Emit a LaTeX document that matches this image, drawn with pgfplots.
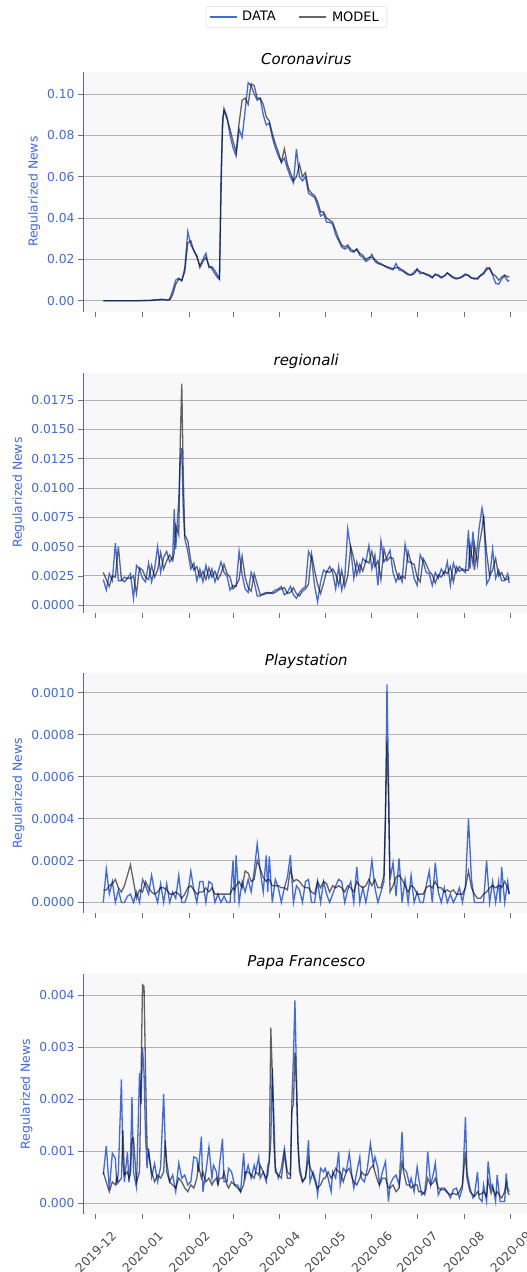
\documentclass[border=0pt]{standalone}
\usepackage{fontspec}
\setmainfont{DejaVu Sans}
\usepackage{pgfplots}
\usepackage{pgfplotstable}
\pgfplotsset{compat=1.18}

\definecolor{rb}{RGB}{65,105,225}
\definecolor{bgc}{RGB}{248,248,248}
\definecolor{grd}{RGB}{178,178,178}

% day (0 = 2019-12-01), data, model
\pgfplotstableread{
d D M
5 0 0
9 0 0
13 0 0
17 0 0
21 0 0
25 0 0
29 0.0001 0
33 0.0002 0.0001
35 0.0001 0.0002
37 0.0003 0.0001
39 0.0005 0.0003
41 0.0004 0.0005
43 0.0008 0.0004
45 0.0005 0.0007
47 0.0003 0.0004
49 0.0008 0.0004
51 0.0050 0.0030
53 0.0100 0.0080
55 0.0110 0.0105
57 0.0095 0.0100
59 0.0160 0.0140
61 0.0335 0.0280
63 0.0270 0.0290
65 0.0245 0.0240
67 0.0210 0.0220
69 0.0170 0.0160
71 0.0200 0.0190
73 0.0230 0.0210
75 0.0160 0.0170
77 0.0165 0.0155
79 0.0145 0.0130
81 0.0120 0.0110
82 0.0105 0.0105
83 0.0600 0.0500
84 0.0830 0.0880
85 0.0930 0.0920
87 0.0890 0.0880
89 0.0800 0.0830
91 0.0740 0.0770
93 0.0700 0.0720
95 0.0830 0.0860
97 0.0790 0.0970
99 0.0920 0.0980
101 0.1055 0.0950
103 0.1040 0.1050
105 0.1000 0.1040
107 0.0970 0.0980
109 0.0980 0.0980
111 0.0900 0.0950
113 0.0850 0.0890
115 0.0860 0.0870
117 0.0790 0.0810
119 0.0740 0.0760
121 0.0700 0.0720
123 0.0670 0.0670
125 0.0690 0.0735
127 0.0640 0.0660
129 0.0600 0.0620
131 0.0570 0.0580
133 0.0735 0.0600
135 0.0600 0.0660
137 0.0580 0.0600
139 0.0600 0.0620
141 0.0520 0.0540
143 0.0510 0.0520
145 0.0500 0.0510
147 0.0460 0.0480
149 0.0410 0.0430
151 0.0420 0.0430
153 0.0380 0.0400
155 0.0380 0.0390
157 0.0370 0.0380
159 0.0320 0.0340
161 0.0290 0.0300
163 0.0260 0.0270
165 0.0250 0.0260
167 0.0260 0.0270
169 0.0240 0.0250
171 0.0235 0.0240
173 0.0250 0.0250
175 0.0220 0.0230
177 0.0210 0.0220
179 0.0190 0.0200
181 0.0200 0.0210
183 0.0225 0.0210
185 0.0190 0.0200
187 0.0180 0.0185
189 0.0175 0.0180
191 0.0170 0.0170
193 0.0160 0.0165
195 0.0155 0.0160
197 0.0150 0.0155
199 0.0180 0.0160
201 0.0150 0.0160
203 0.0145 0.0150
205 0.0135 0.0140
207 0.0125 0.0130
209 0.0125 0.0125
211 0.0140 0.0130
213 0.0155 0.0150
215 0.0130 0.0140
217 0.0135 0.0135
219 0.0125 0.0130
221 0.0120 0.0125
223 0.0110 0.0115
225 0.0130 0.0125
227 0.0120 0.0125
229 0.0110 0.0115
231 0.0120 0.0120
233 0.0135 0.0135
235 0.0120 0.0125
237 0.0110 0.0115
239 0.0105 0.0110
241 0.0110 0.0110
243 0.0120 0.0115
245 0.0130 0.0125
247 0.0120 0.0125
249 0.0110 0.0110
251 0.0105 0.0110
253 0.0110 0.0105
255 0.0125 0.0120
257 0.0135 0.0130
259 0.0160 0.0150
261 0.0155 0.0160
263 0.0125 0.0130
265 0.0085 0.0120
267 0.0080 0.0100
269 0.0105 0.0115
271 0.0120 0.0125
273 0.0095 0.0115
274 0.0100 0.0120
}\corona

\pgfplotstableread{
d D M
5 0.0022 0.0028
7 0.0013 0.0022
9 0.0027 0.0016
11 0.0021 0.0025
13 0.0053 0.0024
15 0.0021 0.0050
17 0.0021 0.0022
19 0.0024 0.0020
21 0.0023 0.0023
23 0.0027 0.0023
25 0.0006 0.0025
27 0.0034 0.0010
29 0.0031 0.0032
31 0.0023 0.0030
33 0.0020 0.0024
35 0.0036 0.0022
37 0.0020 0.0034
39 0.0031 0.0024
41 0.0050 0.0030
43 0.0028 0.0045
45 0.0041 0.0031
47 0.0046 0.0038
49 0.0037 0.0043
51 0.0041 0.0038
52 0.0082 0.0045
53 0.0048 0.0068
55 0.0090 0.0060
56 0.0125 0.0140
57 0.0134 0.0189
58 0.0080 0.0110
59 0.0057 0.0060
61 0.0046 0.0055
63 0.0031 0.0038
65 0.0036 0.0030
67 0.0021 0.0033
69 0.0031 0.0024
71 0.0020 0.0029
73 0.0034 0.0022
75 0.0023 0.0032
77 0.0031 0.0024
79 0.0020 0.0029
81 0.0028 0.0022
83 0.0037 0.0027
85 0.0028 0.0035
87 0.0025 0.0027
89 0.0013 0.0024
91 0.0017 0.0014
93 0.0016 0.0017
95 0.0046 0.0022
97 0.0026 0.0042
99 0.0014 0.0024
101 0.0011 0.0015
103 0.0028 0.0012
105 0.0020 0.0027
107 0.0008 0.0018
109 0.0008 0.0009
111 0.0010 0.0009
113 0.0011 0.0010
115 0.0010 0.0011
117 0.0011 0.0010
119 0.0013 0.0011
121 0.0014 0.0013
123 0.0016 0.0014
125 0.0009 0.0015
127 0.0011 0.0010
129 0.0016 0.0011
131 0.0009 0.0015
133 0.0006 0.0010
135 0.0011 0.0008
137 0.0014 0.0012
139 0.0016 0.0014
141 0.0046 0.0018
143 0.0040 0.0044
145 0.0017 0.0030
147 0.0003 0.0018
149 0.0020 0.0010
151 0.0030 0.0019
153 0.0028 0.0029
155 0.0033 0.0028
157 0.0028 0.0031
159 0.0014 0.0027
161 0.0033 0.0017
163 0.0013 0.0030
165 0.0023 0.0016
167 0.0065 0.0025
169 0.0048 0.0050
171 0.0023 0.0040
173 0.0037 0.0026
175 0.0028 0.0035
177 0.0040 0.0029
179 0.0037 0.0038
181 0.0051 0.0036
183 0.0031 0.0046
185 0.0043 0.0033
187 0.0017 0.0038
189 0.0055 0.0022
191 0.0037 0.0048
193 0.0041 0.0038
195 0.0047 0.0041
197 0.0028 0.0040
199 0.0020 0.0029
201 0.0027 0.0022
203 0.0020 0.0025
205 0.0052 0.0023
207 0.0037 0.0046
209 0.0037 0.0036
211 0.0023 0.0035
213 0.0017 0.0024
215 0.0043 0.0020
217 0.0037 0.0040
219 0.0028 0.0035
221 0.0027 0.0029
223 0.0017 0.0026
225 0.0028 0.0019
227 0.0023 0.0026
229 0.0031 0.0024
231 0.0026 0.0029
233 0.0037 0.0027
235 0.0017 0.0033
237 0.0036 0.0020
239 0.0028 0.0033
241 0.0033 0.0029
243 0.0030 0.0031
245 0.0028 0.0030
247 0.0064 0.0030
248 0.0031 0.0052
250 0.0063 0.0035
251 0.0030 0.0052
253 0.0051 0.0035
254 0.0065 0.0050
256 0.0083 0.0065
257 0.0075 0.0077
258 0.0051 0.0060
259 0.0018 0.0045
261 0.0023 0.0025
263 0.0048 0.0030
265 0.0023 0.0040
267 0.0030 0.0025
269 0.0021 0.0028
271 0.0021 0.0022
273 0.0027 0.0022
274 0.0019 0.0024
}\regionali

\pgfplotstableread{
d D M
5 0 0.00006
7 0.00016 0.00006
9 0.00004 0.00008
11 0.00010 0.00009
13 0 0.00011
15 0.00006 0.00007
17 0 0.00005
19 0 0.00008
21 0.00003 0.00013
23 0.00004 0.00018
25 0 0.00010
27 0.00005 0.00002
29 0 0.00006
31 0.00011 0.00005
33 0.00008 0.00010
35 0.00004 0.00007
37 0.00013 0.00005
39 0.00005 0.00004
41 0 0.00005
43 0.00009 0.00007
45 0 0.00007
47 0.00009 0.00006
49 0 0.00004
51 0.00005 0.00004
53 0.00002 0.00005
55 0.00013 0.00004
57 0 0.00002
59 0 0.00004
61 0.00004 0.00007
63 0.00015 0.00008
65 0.00006 0.00006
67 0 0.00004
69 0.00010 0.00005
71 0.00010 0.00005
73 0 0.00007
75 0.00010 0.00005
77 0.00009 0.00007
79 0 0.00004
81 0.00004 0.00004
83 0 0.00004
85 0.00003 0.00004
87 0 0.00004
89 0 0.00004
91 0.00020 0.00007
92 0 0.00006
93 0.000225 0.00008
95 0 0.00010
97 0.00010 0.00007
99 0.00005 0.00015
101 0.00011 0.00014
103 0.00005 0.00010
105 0.00015 0.00011
107 0.00028 0.00020
109 0.00015 0.00016
111 0.00005 0.00012
113 0.000225 0.00010
114 0.00005 0.00011
115 0.00022 0.00011
117 0 0.00008
119 0.00011 0.00008
121 0.00007 0.00008
123 0 0.00007
125 0.00007 0.00007
127 0.00012 0.00006
129 0.000225 0.00016
131 0 0.00010
133 0.00008 0.00011
135 0.00006 0.00010
137 0 0.00008
139 0.00010 0.00007
141 0.00011 0.00007
143 0 0.00005
145 0 0.00004
147 0.00010 0.00010
149 0 0.00007
151 0.00010 0.00010
153 0.00004 0.00009
155 0 0.00005
157 0.00004 0.00008
159 0.00008 0.00007
161 0.00011 0.00008
163 0.00010 0.00007
165 0 0.00005
167 0.00006 0.00008
169 0.00010 0.00007
171 0 0.00005
173 0.00017 0.00010
175 0 0.00008
177 0.00007 0.00007
179 0 0.00008
181 0.00008 0.00011
183 0.00020 0.00008
185 0.00007 0.00011
187 0 0.00007
189 0.00005 0.00007
191 0.00010 0.00013
192 0.00040 0.00043
193 0.00104 0.00077
194 0.00060 0.00050
195 0.00011 0.00005
197 0.00019 0.00008
199 0.00003 0.00012
201 0.00021 0.00013
203 0 0.00011
205 0.00011 0.00008
207 0 0.00005
209 0.00013 0.00008
211 0 0.00007
213 0.00005 0.00004
215 0 0.00004
217 0 0.00004
219 0.00008 0.00007
221 0.00015 0.00008
223 0 0.00007
225 0.00019 0.00010
227 0.00005 0.00007
229 0 0.00007
231 0.00007 0.00005
233 0 0.00006
235 0.00004 0.00005
237 0 0.00006
239 0.00003 0.00004
241 0.00007 0.00004
243 0 0.00004
245 0.00008 0.00007
247 0.00040 0.00015
249 0.00011 0.00007
251 0 0.00004
253 0 0.00002
255 0 0.00002
257 0 0.00004
259 0.00020 0.00005
261 0 0.00007
263 0.00010 0.00008
265 0 0.00007
267 0.00010 0.00008
268 0 0.00008
269 0.00017 0.00007
271 0 0.00010
273 0.00010 0.00007
274 0.00004 0.00004
}\playstation

\pgfplotstableread{
d D M
5 0.00055 0.00060
7 0.00110 0.00040
9 0.00026 0.00022
11 0.00096 0.00041
13 0.00086 0.00035
14 0.00035 0.00050
15 0.00060 0.00040
17 0.00238 0.00048
18 0.00080 0.00140
19 0.00041 0.00054
21 0.00099 0.00060
22 0.00040 0.00048
23 0.00080 0.00055
24 0.00204 0.00124
25 0.00060 0.00126
27 0.00030 0.00040
29 0.00250 0.00060
30 0.00190 0.00240
31 0.00300 0.00420
32 0.00250 0.00417
33 0.00130 0.00250
34 0.00067 0.00110
35 0.00105 0.00096
37 0.00050 0.00060
39 0.00076 0.00041
41 0.00041 0.00054
43 0.00070 0.00048
45 0.00210 0.00060
46 0.00118 0.00120
47 0.00060 0.00080
49 0.00041 0.00040
51 0.00054 0.00035
53 0.00022 0.00029
55 0.00077 0.00048
57 0.00048 0.00041
59 0.00054 0.00029
61 0.00035 0.00022
63 0.00041 0.00035
65 0.00089 0.00029
67 0.00086 0.00048
68 0.00060 0.00073
70 0.00128 0.00048
71 0.00022 0.00060
73 0.00060 0.00041
75 0.00108 0.00048
77 0.00048 0.00035
78 0.00073 0.00041
80 0.00060 0.00048
81 0.00035 0.00035
82 0.00073 0.00048
84 0.00124 0.00048
85 0.00041 0.00060
87 0.00041 0.00035
88 0.00067 0.00029
90 0.00060 0.00041
92 0.00035 0.00035
94 0.00035 0.00029
96 0.00022 0.00022
98 0.00096 0.00035
99 0.00048 0.00060
101 0.00073 0.00060
103 0.00048 0.00054
105 0.00073 0.00048
106 0.00060 0.00060
108 0.00089 0.00054
109 0.00048 0.00073
111 0.00060 0.00060
113 0.00041 0.00048
114 0.00073 0.00054
115 0.00080 0.00080
116 0.00120 0.00338
117 0.00260 0.00250
118 0.00170 0.00120
119 0.00070 0.00060
121 0.00048 0.00054
123 0.00067 0.00048
125 0.00105 0.00096
127 0.00060 0.00048
129 0.00054 0.00048
130 0.00200 0.00180
131 0.00280 0.00190
132 0.00390 0.00290
133 0.00250 0.00220
134 0.00120 0.00110
135 0.00073 0.00060
137 0.00041 0.00041
139 0.00048 0.00051
141 0.00121 0.00086
142 0.00041 0.00070
144 0.00060 0.00054
146 0.00041 0.00035
147 0.00016 0.00029
149 0.00067 0.00035
151 0.00060 0.00048
152 0.00067 0.00048
154 0.00048 0.00060
156 0.00022 0.00048
157 0.00060 0.00054
159 0.00048 0.00067
161 0.00099 0.00060
162 0.00035 0.00060
164 0.00067 0.00041
166 0.00060 0.00060
168 0.00096 0.00067
170 0.00048 0.00048
171 0.00029 0.00041
173 0.00060 0.00035
175 0.00089 0.00048
176 0.00048 0.00060
178 0.00041 0.00054
180 0.00067 0.00054
182 0.00115 0.00067
184 0.00073 0.00073
185 0.00089 0.00060
187 0.00067 0.00041
188 0.00035 0.00035
190 0.00060 0.00048
192 0.00080 0.00048
194 0.00003 0.00029
195 0.00035 0.00029
197 0.00048 0.00035
199 0.00054 0.00022
201 0.00035 0.00029
203 0.00137 0.00080
204 0.00067 0.00060
206 0.00060 0.00035
208 0.00035 0.00035
209 0.00048 0.00029
211 0.00022 0.00035
213 0.00070 0.00035
214 0.00048 0.00022
216 0.00016 0.00022
218 0.00022 0.00016
219 0.00048 0.00029
220 0.00099 0.00048
222 0.00035 0.00035
224 0.00060 0.00041
225 0.00077 0.00048
227 0.00016 0.00029
229 0.00029 0.00026
231 0.00029 0.00026
233 0.00022 0.00020
235 0.00010 0.00016
237 0.00026 0.00019
239 0.00029 0.00016
241 0.00010 0.00022
243 0.00029 0.00035
245 0.00166 0.00099
246 0.00060 0.00048
248 0.00029 0.00022
250 0.00010 0.00016
251 0.00016 0.00013
253 0.00060 0.00022
254 0.00010 0.00016
256 0.00003 0.00019
257 0.00035 0.00022
259 0.00003 0.00013
260 0.00080 0.00045
262 0.00029 0.00019
263 0.00035 0.00029
265 0.00003 0.00016
266 0.00054 0.00022
268 0.00003 0.00013
269 0.00003 0.00010
271 0.00003 0.00022
272 0.00057 0.00038
273 0.00029 0.00022
274 0.00022 0.00016
}\papa

\pgfplotsset{
  panel/.style={
    scale only axis, width=446.5pt, height=240pt, anchor=north west,
    xmin=-8.45, xmax=287.45,
    axis x line*=bottom, axis y line*=left,
    x axis line style={draw=none},
    y axis line style={rb, line width=0.9pt, -},
    axis background/.style={fill=bgc},
    ymajorgrids, major grid style={grd, line width=1pt},
    tick align=outside, major tick length=5pt,
    tick style={black!55, line width=0.8pt},
    xtick={0,31,62,91,122,152,183,213,244,275},
    xticklabels={},
    scaled y ticks=false,
    /pgf/number format/assume math mode=true,
    yticklabel style={rb, font=\fontsize{12.3}{14}\selectfont,
      /pgf/number format/fixed, /pgf/number format/fixed zerofill},
    ylabel={Regularized News},
    ylabel style={rb, font=\fontsize{12.4}{14}\selectfont},
    every axis title/.style={at={(0.5,1)}, anchor=base, yshift=7.7pt,
      font=\fontsize{15}{18}\selectfont\itshape},
  },
  datal/.style={rb, line width=1.3pt},
  modl/.style={black, opacity=0.6, line width=1.3pt},
}

\begin{document}
\begin{tikzpicture}
\path[use as bounding box] (0pt,0pt) rectangle (527pt,-1272pt);

\begin{axis}[panel, at={(83pt,-71.7pt)}, title={Coronavirus},
  ymin=-0.00528, ymax=0.1108, ytick={0,0.02,0.04,0.06,0.08,0.10},
  yticklabel style={/pgf/number format/precision=2},
  legend columns=2,
  legend style={at={(0.478,1.228)}, anchor=center, draw=black!15,
    rounded corners=2pt, inner xsep=3pt, inner ysep=3pt,
    font=\fontsize{13}{15}\selectfont,
    nodes={inner xsep=5pt},
    /tikz/every even column/.append style={column sep=18pt}},
  legend image code/.code={\draw[#1] (0pt,0pt) -- (27pt,0pt);}]
\addplot[datal] table[x=d, y=D] {\corona};
\addlegendentry{DATA}
\addplot[modl] table[x=d, y=M] {\corona};
\addlegendentry{MODEL}
\end{axis}

\begin{axis}[panel, at={(83pt,-372.7pt)}, title={regionali},
  ymin=-0.00063, ymax=0.01983,
  ytick={0,0.0025,0.005,0.0075,0.01,0.0125,0.015,0.0175},
  yticklabel style={/pgf/number format/precision=4}]
\addplot[datal] table[x=d, y=D] {\regionali};
\addplot[modl] table[x=d, y=M] {\regionali};
\end{axis}

\begin{axis}[panel, at={(83pt,-673.4pt)}, title={Playstation},
  ymin=-0.000052, ymax=0.001092,
  ytick={0,0.0002,0.0004,0.0006,0.0008,0.001},
  yticklabel style={/pgf/number format/precision=4}]
\addplot[datal] table[x=d, y=D] {\playstation};
\addplot[modl] table[x=d, y=M] {\playstation};
\end{axis}

\begin{axis}[panel, at={(83pt,-974pt)}, title={Papa Francesco},
  ymin=-0.00021, ymax=0.00441,
  ytick={0,0.001,0.002,0.003,0.004},
  yticklabel style={/pgf/number format/precision=3},
  xticklabels={2019-12,2020-01,2020-02,2020-03,2020-04,2020-05,2020-06,2020-07,2020-08,2020-09},
  xticklabel style={yshift=-33pt, rotate=45, anchor=center,
    font=\fontsize{12.3}{14}\selectfont, text=black!70}]
\addplot[datal] table[x=d, y=D] {\papa};
\addplot[modl] table[x=d, y=M] {\papa};
\end{axis}
\end{tikzpicture}
\end{document}
